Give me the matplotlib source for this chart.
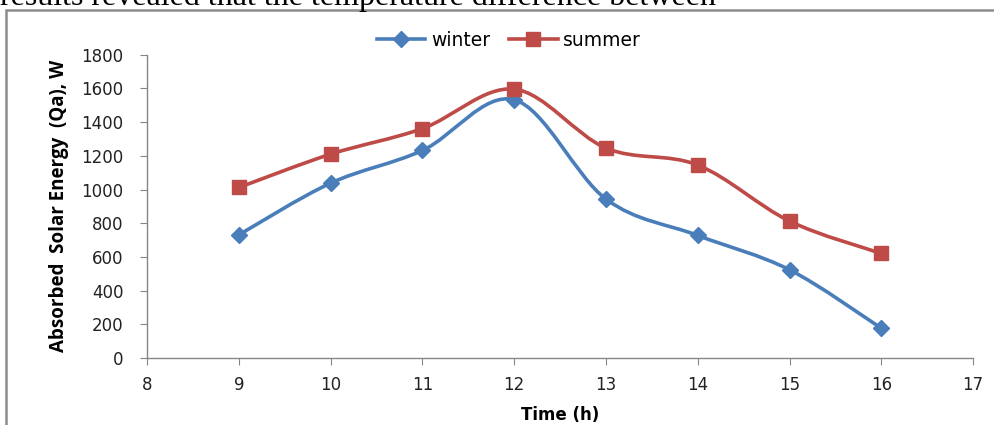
import matplotlib.pyplot as plt
from matplotlib.path import Path
from matplotlib.patches import PathPatch, Rectangle
from matplotlib.lines import Line2D

# data
hours = [9, 10, 11, 12, 13, 14, 15, 16]
winter = [731, 1038, 1232, 1533, 943, 727, 523, 176]
summer = [1012, 1210, 1362, 1596, 1246, 1145, 812, 620]

BLUE = "#4A7EBB"
RED = "#BE4B48"
GRID = "#868686"

plt.rcParams["font.family"] = ["DejaVu Sans"]


def smooth_path(xs, ys, tension=1 / 6):
    # Excel-style smoothed line: cubic Bezier segments through the data points
    verts = [(xs[0], ys[0])]
    codes = [Path.MOVETO]
    n = len(xs)
    for i in range(n - 1):
        x0, y0 = (xs[i - 1], ys[i - 1]) if i > 0 else (xs[i], ys[i])
        x1, y1 = xs[i], ys[i]
        x2, y2 = xs[i + 1], ys[i + 1]
        x3, y3 = (xs[i + 2], ys[i + 2]) if i + 2 < n else (x2, y2)
        c1 = (x1 + (x2 - x0) * tension, y1 + (y2 - y0) * tension)
        c2 = (x2 - (x3 - x1) * tension, y2 - (y3 - y1) * tension)
        verts += [c1, c2, (x2, y2)]
        codes += [Path.CURVE4] * 3
    return Path(verts, codes)


fig = plt.figure(figsize=(9.94, 4.25), dpi=100)
ax = fig.add_axes([0.148, 0.158, 0.831, 0.713])

for ys, color, marker, ms, label in [
    (winter, BLUE, "D", 8, "winter"),
    (summer, RED, "s", 10, "summer"),
]:
    ax.add_patch(PathPatch(smooth_path(hours, ys), facecolor="none",
                           edgecolor=color, lw=2.6, zorder=2))
    ax.plot(hours, ys, linestyle="none", marker=marker, ms=ms,
            color=color, zorder=3)

ax.set_xlim(8, 17)
ax.set_ylim(0, 1800)
ax.set_xticks(range(8, 18))
ax.set_yticks(range(0, 1801, 200))

for side in ["top", "right"]:
    ax.spines[side].set_visible(False)
for side in ["left", "bottom"]:
    ax.spines[side].set_color(GRID)
    ax.spines[side].set_linewidth(1)
ax.tick_params(axis="both", direction="out", length=5, color=GRID,
               labelsize=12, labelcolor="#222222")
ax.tick_params(axis="x", pad=8)
ax.tick_params(axis="y", pad=12)

ax.set_xlabel("Time (h)", fontsize=12, fontweight="bold", labelpad=9)
ax.set_ylabel("Absorbed  Solar Energy  (Qa), W", fontsize=13.5, fontweight="bold",
              family=["Open Sans", "DejaVu Sans"], labelpad=9)

handles = [
    Line2D([], [], color=BLUE, lw=2.6, marker="D", ms=8),
    Line2D([], [], color=RED, lw=2.6, marker="s", ms=10),
]
fig.legend(handles, ["winter", "summer"], loc="center", bbox_to_anchor=(0.512, 0.905),
           ncol=2, frameon=False, fontsize=13.5, handlelength=2.6,
           columnspacing=1.0, handletextpad=0.3)

# scanned-page frame and the cut-off sentence above it
fig.patches.append(Rectangle((6 / 994, -0.2), 1.2, 1.2 - 10 / 425,
                             transform=fig.transFigure, fill=False,
                             edgecolor="#8c8c8c", lw=1.8))
fig.text(0.0, 1 - 5 / 425, "results revealed that the temperature difference between",
         family="Liberation Serif", fontsize=23, va="baseline", ha="left")

fig.savefig("out.png", dpi=100)
